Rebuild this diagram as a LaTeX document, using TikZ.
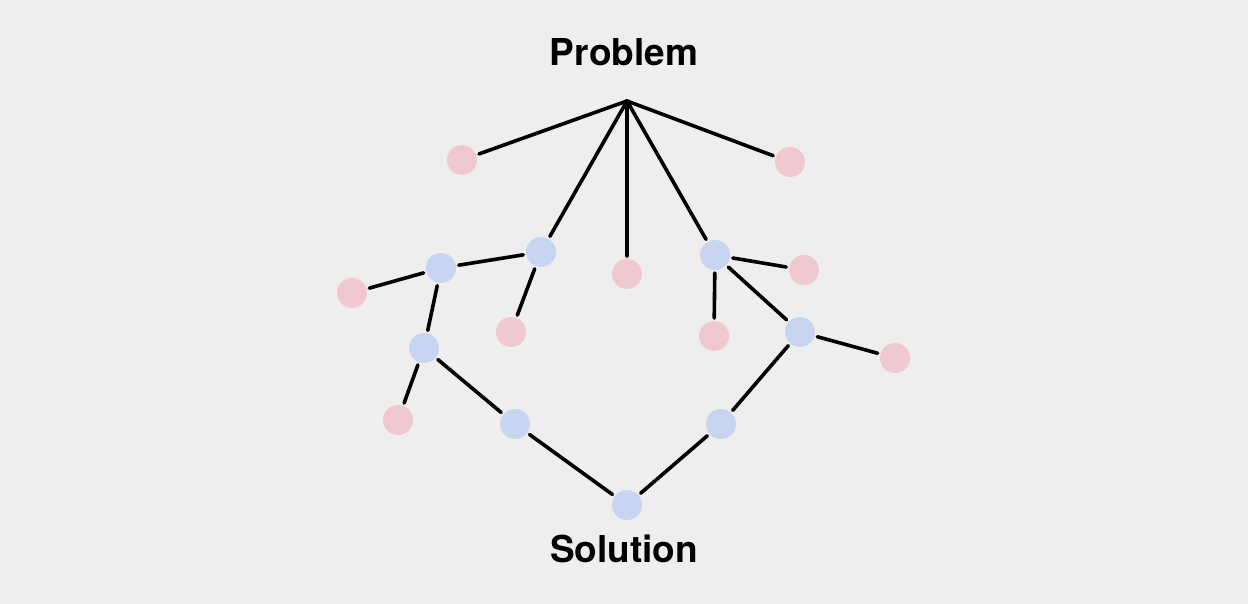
\documentclass[tikz,border=0pt]{standalone}
\usepackage{fontspec}
\setmainfont{TeX Gyre Heros}
\definecolor{bg}{HTML}{EEEEEE}
\definecolor{pinkdot}{HTML}{F0C8CF}
\definecolor{bluedot}{HTML}{C8D5F0}
\begin{document}
\begin{tikzpicture}[x=1pt, y=-1pt, line join=round, line cap=round]
	\tikzset{dot/.style={circle, minimum size=30pt, inner sep=0pt, outer sep=3pt},
		pdot/.style={dot, fill=pinkdot}, bdot/.style={dot, fill=bluedot},
		edge/.style={line width=3.6pt},
		lbl/.style={font=\fontsize{37}{40}\selectfont\bfseries}}
	\fill[bg] (0,0) rectangle (1248,604);
	\useasboundingbox (0,0) rectangle (1248,604);
	\node[lbl] (prob) at (624,52) {Problem};
	\node[lbl] (sol) at (624,549) {Solution};
	\coordinate (p) at (627,101);
	% red leaves
	\node[pdot] (a1) at (462,160) {};
	\node[pdot] (a2) at (790,162) {};
	\node[pdot] (a3) at (627,274) {};
	\node[pdot] (a4) at (804,270) {};
	\node[pdot] (a5) at (352,293) {};
	\node[pdot] (a6) at (511,332) {};
	\node[pdot] (a7) at (714,336) {};
	\node[pdot] (a8) at (895,358) {};
	\node[pdot] (a9) at (398,420) {};
	% blue path
	\node[bdot] (b1) at (541,252) {};
	\node[bdot] (b2) at (715,255) {};
	\node[bdot] (b3) at (441,268) {};
	\node[bdot] (b4) at (800,332) {};
	\node[bdot] (b5) at (424,348) {};
	\node[bdot] (b6) at (515,424) {};
	\node[bdot] (b7) at (721,424) {};
	\node[bdot] (b8) at (627,505) {};
	\foreach \n in {a1,b1,a3,b2,a2}\draw[edge] (p)--(\n);
	\foreach \u/\v in {b1/b3, b1/a6, b3/a5, b3/b5, b5/a9, b5/b6, b6/b8,
		b2/a4, b2/a7, b2/b4, b4/a8, b4/b7, b7/b8}\draw[edge] (\u)--(\v);
\end{tikzpicture}
\end{document}
